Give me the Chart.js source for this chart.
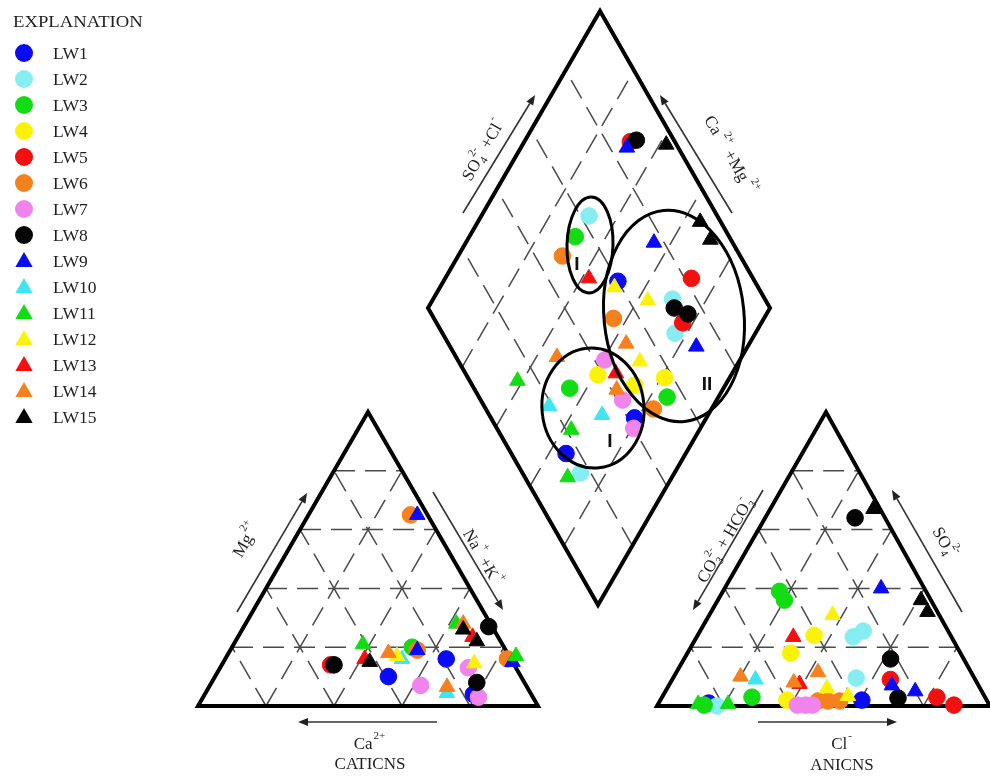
<!DOCTYPE html>
<html>
<head>
<meta charset="utf-8">
<script src="https://cdn.jsdelivr.net/npm/chart.js@4.4.1/dist/chart.umd.min.js"></script>
<style>
  html, body { margin: 0; padding: 0; background: #fff; }
  #wrap { width: 990px; height: 778px; position: relative; }
</style>
</head>
<body>
<div id="wrap"><canvas id="piper"></canvas></div>
<script>
// Sample wells
const seriesNames = ['LW1','LW2','LW3','LW4','LW5','LW6','LW7','LW8','LW9','LW10','LW11','LW12','LW13','LW14','LW15'];

// Cation triangle, meq % per sample: [Mg2+, Na+ + K+]  (Ca2+ is the remainder)
const cationPts = [
  [[16,65],[10,51],[4,79]],          // LW1
  [],                                // LW2
  [[20,53]],                         // LW3
  [],                                // LW4
  [[14,32]],                         // LW5
  [[65,30],[19,55],[16,83]],         // LW6
  [[7,62],[13,73],[3,81]],           // LW7
  [[27,72],[14,33],[8,78]],          // LW8
  [[65,32],[19,55],[15,85]],         // LW9
  [[16,52],[4.4,71]],                // LW10
  [[28,62],[21,38],[17,85]],         // LW11
  [[17,50],[14.5,74]],               // LW12
  [[23.5,69],[16,41]],               // LW13
  [[28,64],[18,47],[6.5,70]],        // LW14
  [[26,65],[22,71],[15,43]]          // LW15
];

// Anion triangle, meq % per sample: [SO4 2-, Cl-]  (CO3 + HCO3 is the remainder)
const anionPts = [
  [[1,15],[2,60.5]],                           // LW1
  [[23.5,47],[25.5,49],[0,18],[9.5,55]],       // LW2
  [[39,17],[36,20],[3,27],[0.3,14]],           // LW3
  [[24,35],[18,31],[2,38]],                    // LW4
  [[9,65.5],[3,82.5],[0.3,89]],                // LW5
  [[1.7,47.5],[1.7,50.5],[1.7,54]],            // LW6
  [[0.3,42],[0.3,44.5],[0.3,46.5]],            // LW7
  [[64,27],[16,62],[2.7,71]],                  // LW8
  [[40,47],[7,67],[5,75]],                     // LW9
  [[9,25]],                                    // LW10
  [[0.7,12],[0.7,21]],                         // LW11
  [[31,37],[6,48],[3.4,55.6]],                 // LW12
  [[23.5,29],[7.5,39]],                        // LW13
  [[10,20],[8,37],[11.5,42.5]],                // LW14
  [[67,31],[36,61],[32,65]]                    // LW15
];

// Central diamond, meq % per sample: [SO4 2- + Cl-, Ca2+ + Mg2+]
const diamondPts = [
  [[60,49],[42,21],[16,35]],                   // LW1
  [[62.5,68.5],[73,30],[68,23.5],[17,27.5]],   // LW2
  [[55,69],[55,15],[28,45]],                   // LW3
  [[38.5,39],[47.5,26.5],[57.5,19]],           // LW4
  [[87,69],[82,28],[72,23]],                   // LW5
  [[48,69.5],[52.5,44],[49,17]],               // LW6
  [[43,39.5],[41.5,27.5],[40,19.5]],           // LW7
  [[89,67.5],[72,28],[75,23]],                 // LW8
  [[85,69],[77,45],[72,15]],                   // LW9
  [[19,48],[33,31]],                           // LW10
  [[14,61.5],[21.5,37.5],[12.5,30.5]],         // LW11
  [[58,49],[65.5,37],[53,29]],                 // LW12
  [[52,58],[44,34]],                           // LW13
  [[52,36],[29.5,54],[41.5,31]],               // LW14
  [[97,58],[94,35],[94,29]]                    // LW15
];

// Marker styles
const markerShapes = ['circle','circle','circle','circle','circle','circle','circle','circle',
                      'triangle','triangle','triangle','triangle','triangle','triangle','triangle'];
const markerColors = ['#0a0af5','#86eef2','#12dc12','#fbf20a','#f51010','#f5801e','#f184ec','#050505',
                      '#0a0af5','#3fe6f0','#12dc12','#fbf20a','#f51010','#f5801e','#050505'];

// Layout of the three plotting fields (chart units = canvas pixels, y downward)
const CAT = { a: [198,706], b: [538,706], c: [368,412] };   // Ca, Na+K, Mg corners
const ANI = { a: [657,706], b: [990,706], c: [826,412] };   // HCO3, Cl, SO4 corners
const DIA = { bottom: [598,605], left: [428,308], right: [770,308] };
DIA.top = [DIA.left[0] + DIA.right[0] - DIA.bottom[0], DIA.left[1] + DIA.right[1] - DIA.bottom[1]];

function tern(T, third, second) {   // third -> apex fraction, second -> right corner fraction
  const u = third / 100, v = second / 100;
  return { x: T.a[0] + v * (T.b[0] - T.a[0]) + u * (T.c[0] - T.a[0]),
           y: T.a[1] + v * (T.b[1] - T.a[1]) + u * (T.c[1] - T.a[1]) };
}
function diam(anionSum, cationSum) {
  const A = anionSum / 100, C = cationSum / 100, B = DIA.bottom;
  return { x: B[0] + C * (DIA.left[0] - B[0]) + A * (DIA.right[0] - B[0]),
           y: B[1] + C * (DIA.left[1] - B[1]) + A * (DIA.right[1] - B[1]) };
}

const datasets = seriesNames.map((name, i) => {
  const pts = []
    .concat(cationPts[i].map(p => tern(CAT, p[0], p[1])))
    .concat(anionPts[i].map(p => tern(ANI, p[0], p[1])))
    .concat(diamondPts[i].map(p => diam(p[0], p[1])));
  const tri = markerShapes[i] === 'triangle';
  return {
    label: name,
    data: pts,
    pointStyle: markerShapes[i],
    pointRadius: tri ? 9 : 8.3,
    pointBackgroundColor: markerColors[i],
    pointBorderColor: markerColors[i],
    pointBorderWidth: 1,
    showLine: false,
    order: 100 - i,
    clip: false
  };
});

const SERIF = '"Liberation Serif", "Times New Roman", serif';
const INK = '#1e1e1e';

function line(ctx, p, q) { ctx.beginPath(); ctx.moveTo(p[0], p[1]); ctx.lineTo(q[0], q[1]); ctx.stroke(); }
function lerp(p, q, t) { return [p[0] + (q[0] - p[0]) * t, p[1] + (q[1] - p[1]) * t]; }

function arrow(ctx, p, q) {
  ctx.save();
  ctx.strokeStyle = '#333'; ctx.fillStyle = '#222'; ctx.lineWidth = 1.6;
  const ang = Math.atan2(q[1] - p[1], q[0] - p[0]);
  const hl = 10, hw = 4;
  const base = [q[0] - hl * Math.cos(ang), q[1] - hl * Math.sin(ang)];
  line(ctx, p, base);
  ctx.beginPath();
  ctx.moveTo(q[0], q[1]);
  ctx.lineTo(base[0] + hw * Math.sin(ang), base[1] - hw * Math.cos(ang));
  ctx.lineTo(base[0] - hw * Math.sin(ang), base[1] + hw * Math.cos(ang));
  ctx.closePath(); ctx.fill();
  ctx.restore();
}

// Chemical label: strings are normal text, objects carry stacked sub/superscripts
function chem(ctx, parts, cx, cy, angle, size) {
  const base = size + 'px ' + SERIF;
  const small = Math.round(size * 0.62) + 'px ' + SERIF;
  const items = []; let w = 0;
  for (const p of parts) {
    if (typeof p === 'string') {
      ctx.font = base; const pw = ctx.measureText(p).width;
      items.push({ t: p, w: pw, n: true }); w += pw;
    } else {
      ctx.font = small;
      const a = p.sub ? ctx.measureText(p.sub).width : 0;
      const b = p.sup ? ctx.measureText(p.sup).width : 0;
      const pw = Math.max(a, b) + 2;
      items.push(Object.assign({ w: pw }, p)); w += pw;
    }
  }
  ctx.save();
  ctx.translate(cx, cy); ctx.rotate(angle);
  ctx.fillStyle = INK; ctx.textBaseline = 'middle'; ctx.textAlign = 'left';
  let x = -w / 2;
  for (const it of items) {
    if (it.n) { ctx.font = base; ctx.fillText(it.t, x, 0); }
    else {
      ctx.font = small;
      if (it.sub) ctx.fillText(it.sub, x + 1, size * 0.33);
      if (it.sup) ctx.fillText(it.sup, x + 1, -size * 0.5);
    }
    x += it.w;
  }
  ctx.restore();
}

function P(chart, xy) {
  return [chart.scales.x.getPixelForValue(xy[0]), chart.scales.y.getPixelForValue(xy[1])];
}

const piperFrame = {
  id: 'piperFrame',
  beforeDatasetsDraw(chart) {
    const ctx = chart.ctx;
    ctx.save();
    // dashed 20 % grid in both triangles
    ctx.strokeStyle = '#4a4a4a'; ctx.lineWidth = 1.5; ctx.setLineDash([21, 10]);
    for (const T of [CAT, ANI]) {
      const A = P(chart, T.a), B = P(chart, T.b), C = P(chart, T.c);
      for (let k = 1; k < 5; k++) {
        const t = k / 5;
        line(ctx, lerp(A, C, t), lerp(B, C, t));   // parallel to base
        line(ctx, lerp(B, A, t), lerp(C, A, t));   // parallel to right side
        line(ctx, lerp(A, B, t), lerp(C, B, t));   // parallel to left side
      }
    }
    // dashed grid in the diamond
    const Bd = P(chart, DIA.bottom), Ld = P(chart, DIA.left), Rd = P(chart, DIA.right), Td = P(chart, DIA.top);
    for (let k = 1; k < 5; k++) {
      const t = k / 5;
      line(ctx, lerp(Bd, Rd, t), lerp(Ld, Td, t));
      line(ctx, lerp(Bd, Ld, t), lerp(Rd, Td, t));
    }
    ctx.setLineDash([]);
    // heavy outlines
    ctx.strokeStyle = '#000'; ctx.lineWidth = 4; ctx.lineJoin = 'miter';
    for (const T of [CAT, ANI]) {
      const A = P(chart, T.a), B = P(chart, T.b), C = P(chart, T.c);
      ctx.beginPath(); ctx.moveTo(A[0], A[1]); ctx.lineTo(B[0], B[1]); ctx.lineTo(C[0], C[1]); ctx.closePath(); ctx.stroke();
    }
    ctx.beginPath(); ctx.moveTo(Bd[0], Bd[1]); ctx.lineTo(Rd[0], Rd[1]); ctx.lineTo(Td[0], Td[1]); ctx.lineTo(Ld[0], Ld[1]); ctx.closePath(); ctx.stroke();

    // axis arrows
    arrow(ctx, [237,612], [307,493]);
    arrow(ctx, [433,492], [503,610]);
    arrow(ctx, [437,722], [298,722]);
    arrow(ctx, [763,490], [693,610]);
    arrow(ctx, [962,612], [892,490]);
    arrow(ctx, [758,722], [897,722]);
    arrow(ctx, [463,213], [535,95]);
    arrow(ctx, [732,213], [660,95]);

    // axis titles
    const up = -Math.PI / 3, down = Math.PI / 3;
    chem(ctx, ['Mg', { sup: '2+' }], 247, 540, up, 17);
    chem(ctx, ['Na', { sup: '+' }, ' +K', { sup: '+' }], 482, 558, down, 17);
    chem(ctx, ['Ca', { sup: '2+' }], 370, 745, 0, 17);
    chem(ctx, ['CATICNS'], 370, 765, 0, 17);
    chem(ctx, ['CO', { sub: '3', sup: '2-' }, ' + HCO', { sub: '3', sup: '-' }], 726, 540, up, 17);
    chem(ctx, ['SO', { sub: '4', sup: '2-' }], 944, 543, down, 17);
    chem(ctx, ['Cl', { sup: '-' }], 842, 745, 0, 17);
    chem(ctx, ['ANICNS'], 842, 766, 0, 17);
    chem(ctx, ['SO', { sub: '4', sup: '2-' }, ' +Cl', { sup: '-' }], 484, 150, up, 17);
    chem(ctx, ['Ca', { sup: ' 2+' }, ' +Mg', { sup: ' 2+' }], 730, 156, down, 17);
    ctx.restore();
  },
  afterDatasetsDraw(chart) {
    const ctx = chart.ctx;
    ctx.save();
    // water-type groups
    ctx.strokeStyle = '#000'; ctx.lineWidth = 3;
    const groups = [[590,245,23,48,0.03],[674,316,70,106,-0.1],[593,408,51,60,-0.1]];
    for (const g of groups) {
      const c = P(chart, [g[0], g[1]]);
      ctx.beginPath(); ctx.ellipse(c[0], c[1], g[2], g[3], g[4], 0, Math.PI * 2); ctx.stroke();
    }
    ctx.fillStyle = '#111'; ctx.font = 'bold 19px "Liberation Sans", Arial, sans-serif';
    ctx.textAlign = 'center'; ctx.textBaseline = 'middle';
    ctx.fillText('I', 577, 265);
    ctx.fillText('II', 707, 385);
    ctx.fillText('I', 610, 442);

    // explanation (legend)
    ctx.fillStyle = INK; ctx.textAlign = 'left';
    ctx.font = '17px ' + SERIF;
    ctx.save(); ctx.translate(13, 23); ctx.scale(1.1, 1);
    ctx.fillText('EXPLANATION', 0, 0);
    ctx.restore();
    chart.data.datasets.forEach((ds, i) => {
      const y = 53 + i * 26, x = 24;
      ctx.fillStyle = ds.pointBackgroundColor;
      ctx.beginPath();
      if (ds.pointStyle === 'triangle') {
        const r = 10;
        for (let k = 0; k < 3; k++) {
          const a = -Math.PI / 2 + k * 2 * Math.PI / 3;
          const px = x + r * Math.cos(a), py = y + 1 + r * Math.sin(a);
          if (k === 0) ctx.moveTo(px, py); else ctx.lineTo(px, py);
        }
        ctx.closePath();
      } else {
        ctx.arc(x, y, 9, 0, Math.PI * 2);
      }
      ctx.fill();
      ctx.fillStyle = INK; ctx.font = '17.5px ' + SERIF;
      ctx.fillText(ds.label, 53, y + 1);
    });
    ctx.restore();
  }
};

new Chart(document.getElementById('piper'), {
  type: 'scatter',
  data: { datasets },
  options: {
    responsive: true,
    maintainAspectRatio: false,
    animation: false,
    layout: { padding: 0, autoPadding: false },
    plugins: { legend: { display: false }, tooltip: { enabled: false } },
    scales: {
      x: { type: 'linear', min: 0, max: 990, display: false },
      y: { type: 'linear', min: 0, max: 778, reverse: true, display: false }
    }
  },
  plugins: [piperFrame]
});
</script>
</body>
</html>
